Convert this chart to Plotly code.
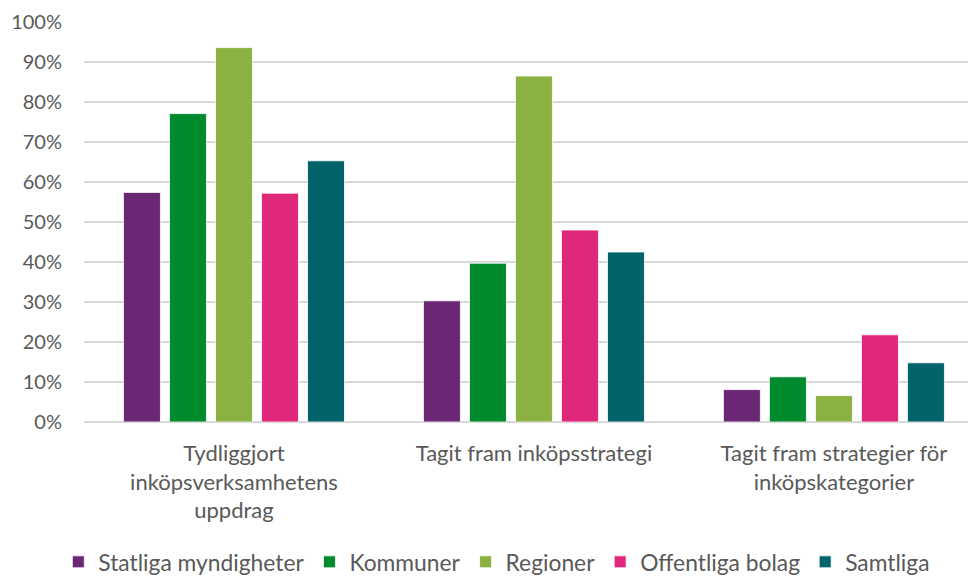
import plotly.graph_objects as go

categories = [
    "Tydliggjort<br>inköpsverksamhetens<br>uppdrag",
    "Tagit fram inköpsstrategi",
    "Tagit fram strategier för<br>inköpskategorier",
]
series_names = ["Statliga myndigheter", "Kommuner", "Regioner", "Offentliga bolag", "Samtliga"]
statliga = [57.4, 30.3, 8.1]
kommuner = [77.1, 39.7, 11.3]
regioner = [93.6, 86.5, 6.6]
offentliga = [57.2, 48.0, 21.8]
samtliga = [65.3, 42.5, 14.8]
colors = ["#6a2874", "#008a2e", "#8bb143", "#df287a", "#02636b"]
values = [statliga, kommuner, regioner, offentliga, samtliga]

FONT = "Lato"
GRAY = "#595959"

fig = go.Figure()
for name, vals, col in zip(series_names, values, colors):
    fig.add_trace(go.Bar(
        x=categories, y=vals, name=name,
        marker=dict(color=col, line=dict(color="white", width=0.8)),
    ))

fig.update_layout(
    width=968, height=576,
    margin=dict(l=84, r=0, t=22, b=154, autoexpand=False),
    paper_bgcolor="white", plot_bgcolor="white",
    barmode="group", bargap=0.233, bargroupgap=0.196,
    font=dict(family=FONT, size=20, color=GRAY),
    showlegend=True,
    legend=dict(orientation="h", x=0.467, xanchor="center", y=-0.35, yanchor="middle",
                font=dict(family=FONT, size=22.8, color=GRAY), traceorder="normal",
                itemwidth=30, tracegroupgap=0),
    xaxis=dict(range=[-0.5, 2.447], showgrid=False, ticks="", tickfont=dict(size=22, color=GRAY),
               showline=False, automargin=False, ticklabelstandoff=16),
    yaxis=dict(range=[0, 100], dtick=10, ticksuffix="%", showgrid=True, gridcolor="#d9d9d9",
               gridwidth=1.5, zeroline=True, zerolinecolor="#d9d9d9", zerolinewidth=1.5,
               tickfont=dict(size=20, color=GRAY), ticks="", ticklabelstandoff=21,
               automargin=False),
)

fig.write_html("out.html", config={"displayModeBar": False},
               post_script="document.body.style.margin='0px';document.body.style.overflow='hidden';")
